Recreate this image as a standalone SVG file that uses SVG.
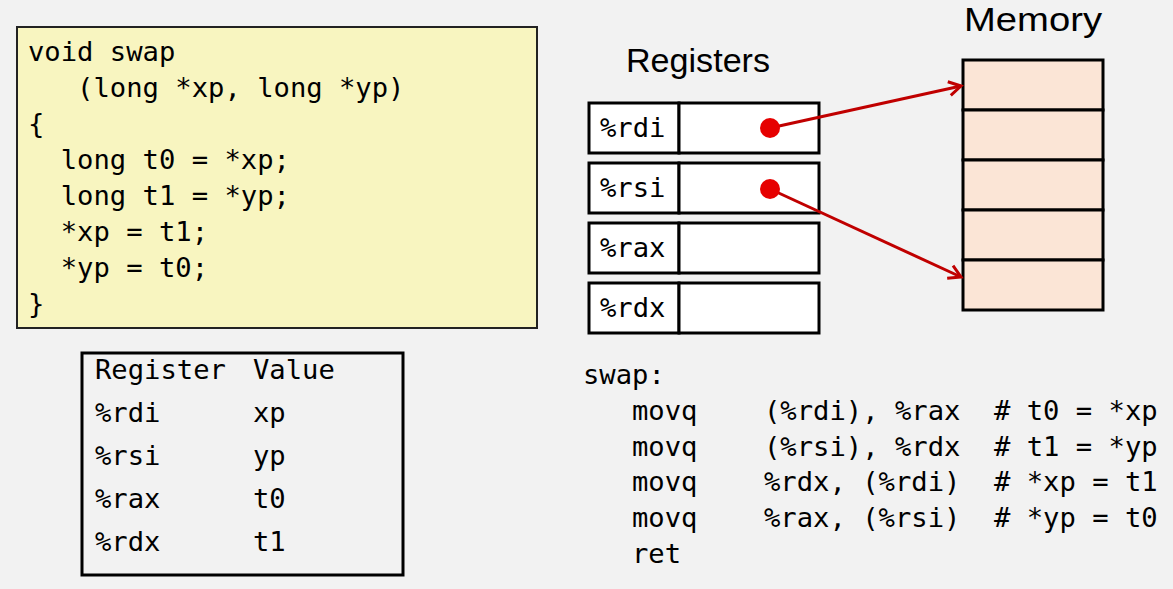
<svg xmlns="http://www.w3.org/2000/svg" width="1173" height="589" viewBox="0 0 1173 589">
<style>
.mono{font-family:"DejaVu Sans Mono","Liberation Mono",monospace;font-size:27.2px;fill:#000}
.sans{font-family:"Liberation Sans",Arial,sans-serif;fill:#000}
.box{fill:#fff;stroke:#000;stroke-width:3}
.mem{fill:#fbe5d6;stroke:#000;stroke-width:3}
.arrow{stroke:#c00000;stroke-width:3;fill:none}
</style>
<defs>
<marker id="ah" markerUnits="userSpaceOnUse" markerWidth="18" markerHeight="18" refX="14" refY="9" orient="auto">
<path d="M2,2 L14,9 L2,16" fill="none" stroke="#c00000" stroke-width="3"/>
</marker>
</defs>
<rect width="1173" height="589" fill="#f2f2f2"/>

<g id="code">
<rect x="17" y="27" width="520" height="301" fill="#f8f5c0" stroke="#222" stroke-width="2"/>
<text class="mono" xml:space="preserve"><tspan x="28" y="61">void swap</tspan><tspan x="28" y="97">   (long *xp, long *yp)</tspan><tspan x="28" y="133">{</tspan><tspan x="28" y="169">  long t0 = *xp;</tspan><tspan x="28" y="205">  long t1 = *yp;</tspan><tspan x="28" y="241">  *xp = t1;</tspan><tspan x="28" y="277">  *yp = t0;</tspan><tspan x="28" y="313">}</tspan></text>
</g>

<g id="regtable">
<rect x="82" y="353" width="321" height="222" fill="none" stroke="#000" stroke-width="3"/>
<text class="mono"><tspan x="95" y="379">Register</tspan><tspan x="253" y="379">Value</tspan><tspan x="95" y="422">%rdi</tspan><tspan x="253" y="422">xp</tspan><tspan x="95" y="465">%rsi</tspan><tspan x="253" y="465">yp</tspan><tspan x="95" y="508">%rax</tspan><tspan x="253" y="508">t0</tspan><tspan x="95" y="551">%rdx</tspan><tspan x="253" y="551">t1</tspan></text>
</g>

<g id="registers-label">
<text class="sans" x="626" y="72" font-size="34" textLength="144" lengthAdjust="spacingAndGlyphs">Registers</text>
</g>
<g id="memory-label">
<text class="sans" x="964" y="31" font-size="34" textLength="138" lengthAdjust="spacingAndGlyphs">Memory</text>
</g>

<g id="reg-rdi">
<rect class="box" x="589" y="103" width="90" height="50"/>
<rect class="box" x="679" y="103" width="140" height="50"/>
<text class="mono" x="600" y="137">%rdi</text>
</g>
<g id="reg-rsi">
<rect class="box" x="589" y="163" width="90" height="50"/>
<rect class="box" x="679" y="163" width="140" height="50"/>
<text class="mono" x="600" y="197">%rsi</text>
</g>
<g id="reg-rax">
<rect class="box" x="589" y="223" width="90" height="50"/>
<rect class="box" x="679" y="223" width="140" height="50"/>
<text class="mono" x="600" y="257">%rax</text>
</g>
<g id="reg-rdx">
<rect class="box" x="589" y="283" width="90" height="50"/>
<rect class="box" x="679" y="283" width="140" height="50"/>
<text class="mono" x="600" y="317">%rdx</text>
</g>

<g id="memory">
<rect class="mem" x="963" y="60" width="140" height="50"/>
<rect class="mem" x="963" y="110" width="140" height="50"/>
<rect class="mem" x="963" y="160" width="140" height="50"/>
<rect class="mem" x="963" y="210" width="140" height="50"/>
<rect class="mem" x="963" y="260" width="140" height="50"/>
</g>

<g id="connectors">
<line class="arrow" x1="770" y1="128" x2="961" y2="86" marker-end="url(#ah)"/>
<line class="arrow" x1="770" y1="189" x2="961" y2="277" marker-end="url(#ah)"/>
<circle cx="770" cy="128" r="10" fill="#e60000"/>
<circle cx="770" cy="189" r="10" fill="#e60000"/>
</g>

<g id="asm">
<text class="mono" x="583" y="384">swap:</text>
<text class="mono"><tspan x="632" y="420">movq</tspan><tspan x="632" y="456">movq</tspan><tspan x="632" y="491">movq</tspan><tspan x="632" y="527">movq</tspan><tspan x="632" y="563">ret</tspan></text>
<text class="mono"><tspan x="764" y="420">(%rdi), %rax</tspan><tspan x="764" y="456">(%rsi), %rdx</tspan><tspan x="764" y="491">%rdx, (%rdi)</tspan><tspan x="764" y="527">%rax, (%rsi)</tspan></text>
<text class="mono"><tspan x="994" y="420"># t0 = *xp</tspan><tspan x="994" y="456"># t1 = *yp</tspan><tspan x="994" y="491"># *xp = t1</tspan><tspan x="994" y="527"># *yp = t0</tspan></text>
</g>
</svg>
